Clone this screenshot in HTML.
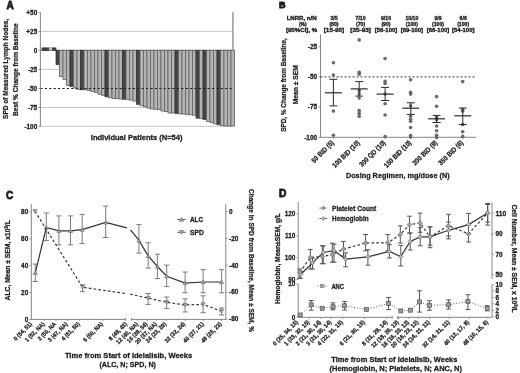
<!DOCTYPE html>
<html><head><meta charset="utf-8"><style>
html,body{margin:0;padding:0;background:#fff;overflow:hidden;}
svg{display:block;font-family:"Liberation Sans",sans-serif;will-change:transform;filter:blur(0.3px);}
</style></head><body>
<svg width="520" height="373" viewBox="0 0 520 373">
<rect width="520" height="373" fill="#fff"/>
<text x="6.50" y="8.70" font-size="10.2" font-weight="bold" fill="#1c1c1c" text-anchor="start" stroke="#1c1c1c" stroke-width="0.8" textLength="7.30" lengthAdjust="spacingAndGlyphs">A</text>
<text x="37.20" y="14.70" font-size="6.4" font-weight="bold" fill="#1c1c1c" text-anchor="end" stroke="#1c1c1c" stroke-width="0.26">+50</text>
<line x1="38.60" y1="12.40" x2="40.40" y2="12.40" stroke="#777" stroke-width="0.8"/>
<text x="37.20" y="33.70" font-size="6.4" font-weight="bold" fill="#1c1c1c" text-anchor="end" stroke="#1c1c1c" stroke-width="0.26">+25</text>
<line x1="38.60" y1="31.40" x2="40.40" y2="31.40" stroke="#777" stroke-width="0.8"/>
<text x="37.20" y="52.60" font-size="6.4" font-weight="bold" fill="#1c1c1c" text-anchor="end" stroke="#1c1c1c" stroke-width="0.26">0</text>
<line x1="38.60" y1="50.30" x2="40.40" y2="50.30" stroke="#777" stroke-width="0.8"/>
<text x="37.20" y="71.70" font-size="6.4" font-weight="bold" fill="#1c1c1c" text-anchor="end" stroke="#1c1c1c" stroke-width="0.26">-25</text>
<line x1="38.60" y1="69.40" x2="40.40" y2="69.40" stroke="#777" stroke-width="0.8"/>
<text x="37.20" y="90.80" font-size="6.4" font-weight="bold" fill="#1c1c1c" text-anchor="end" stroke="#1c1c1c" stroke-width="0.26">-50</text>
<line x1="38.60" y1="88.50" x2="40.40" y2="88.50" stroke="#777" stroke-width="0.8"/>
<text x="37.20" y="109.80" font-size="6.4" font-weight="bold" fill="#1c1c1c" text-anchor="end" stroke="#1c1c1c" stroke-width="0.26">-75</text>
<line x1="38.60" y1="107.50" x2="40.40" y2="107.50" stroke="#777" stroke-width="0.8"/>
<text x="37.20" y="128.60" font-size="6.4" font-weight="bold" fill="#1c1c1c" text-anchor="end" stroke="#1c1c1c" stroke-width="0.26">-100</text>
<line x1="38.60" y1="126.30" x2="40.40" y2="126.30" stroke="#777" stroke-width="0.8"/>
<line x1="40.40" y1="31.40" x2="233.00" y2="31.40" stroke="#bdbdbd" stroke-width="0.9"/>
<line x1="40.40" y1="69.40" x2="233.00" y2="69.40" stroke="#bdbdbd" stroke-width="0.9"/>
<line x1="40.40" y1="107.50" x2="233.00" y2="107.50" stroke="#bdbdbd" stroke-width="0.9"/>
<line x1="40.40" y1="126.30" x2="233.00" y2="126.30" stroke="#bdbdbd" stroke-width="0.9"/>
<line x1="40.40" y1="50.30" x2="233.70" y2="50.30" stroke="#555" stroke-width="0.8"/>
<rect x="42.00" y="47.90" width="3.50" height="2.40" fill="#454545" stroke="#2e2e2e" stroke-width="0.7"/>
<rect x="45.50" y="47.90" width="3.50" height="2.40" fill="#454545" stroke="#2e2e2e" stroke-width="0.7"/>
<rect x="49.00" y="47.90" width="3.50" height="2.40" fill="#d4d4d4" stroke="#777" stroke-width="0.6"/>
<rect x="52.50" y="47.90" width="3.50" height="2.40" fill="#454545" stroke="#2e2e2e" stroke-width="0.7"/>
<rect x="56.00" y="50.30" width="3.50" height="14.30" fill="#454545" stroke="#2e2e2e" stroke-width="0.7"/>
<rect x="59.50" y="50.30" width="3.50" height="26.20" fill="#b4b4b4" stroke="#666" stroke-width="0.85"/>
<rect x="63.00" y="50.30" width="3.50" height="29.20" fill="#b4b4b4" stroke="#666" stroke-width="0.85"/>
<rect x="66.50" y="50.30" width="3.50" height="35.10" fill="#b4b4b4" stroke="#666" stroke-width="0.85"/>
<rect x="70.00" y="50.30" width="3.50" height="36.10" fill="#454545" stroke="#2e2e2e" stroke-width="0.7"/>
<rect x="73.50" y="50.30" width="3.50" height="37.60" fill="#b4b4b4" stroke="#666" stroke-width="0.85"/>
<rect x="77.00" y="50.30" width="3.50" height="39.00" fill="#b4b4b4" stroke="#666" stroke-width="0.85"/>
<rect x="80.50" y="50.30" width="3.50" height="39.50" fill="#454545" stroke="#2e2e2e" stroke-width="0.7"/>
<rect x="84.00" y="50.30" width="3.50" height="39.50" fill="#b4b4b4" stroke="#666" stroke-width="0.85"/>
<rect x="87.50" y="50.30" width="3.50" height="40.20" fill="#b4b4b4" stroke="#666" stroke-width="0.85"/>
<rect x="91.00" y="50.30" width="3.50" height="41.00" fill="#b4b4b4" stroke="#666" stroke-width="0.85"/>
<rect x="94.50" y="50.30" width="3.50" height="42.10" fill="#b4b4b4" stroke="#666" stroke-width="0.85"/>
<rect x="98.00" y="50.30" width="3.50" height="44.00" fill="#b4b4b4" stroke="#666" stroke-width="0.85"/>
<rect x="101.50" y="50.30" width="3.50" height="45.00" fill="#b4b4b4" stroke="#666" stroke-width="0.85"/>
<rect x="105.00" y="50.30" width="3.50" height="46.50" fill="#454545" stroke="#2e2e2e" stroke-width="0.7"/>
<rect x="108.50" y="50.30" width="3.50" height="47.40" fill="#b4b4b4" stroke="#666" stroke-width="0.85"/>
<rect x="112.00" y="50.30" width="3.50" height="48.10" fill="#b4b4b4" stroke="#666" stroke-width="0.85"/>
<rect x="115.50" y="50.30" width="3.50" height="48.40" fill="#b4b4b4" stroke="#666" stroke-width="0.85"/>
<rect x="119.00" y="50.30" width="3.50" height="48.70" fill="#b4b4b4" stroke="#666" stroke-width="0.85"/>
<rect x="122.50" y="50.30" width="3.50" height="48.90" fill="#454545" stroke="#2e2e2e" stroke-width="0.7"/>
<rect x="126.00" y="50.30" width="3.50" height="49.20" fill="#b4b4b4" stroke="#666" stroke-width="0.85"/>
<rect x="129.50" y="50.30" width="3.50" height="49.80" fill="#b4b4b4" stroke="#666" stroke-width="0.85"/>
<rect x="133.00" y="50.30" width="3.50" height="50.80" fill="#b4b4b4" stroke="#666" stroke-width="0.85"/>
<rect x="136.50" y="50.30" width="3.50" height="54.00" fill="#454545" stroke="#2e2e2e" stroke-width="0.7"/>
<rect x="140.00" y="50.30" width="3.50" height="55.40" fill="#b4b4b4" stroke="#666" stroke-width="0.85"/>
<rect x="143.50" y="50.30" width="3.50" height="56.40" fill="#b4b4b4" stroke="#666" stroke-width="0.85"/>
<rect x="147.00" y="50.30" width="3.50" height="57.80" fill="#b4b4b4" stroke="#666" stroke-width="0.85"/>
<rect x="150.50" y="50.30" width="3.50" height="58.60" fill="#b4b4b4" stroke="#666" stroke-width="0.85"/>
<rect x="154.00" y="50.30" width="3.50" height="59.00" fill="#b4b4b4" stroke="#666" stroke-width="0.85"/>
<rect x="157.50" y="50.30" width="3.50" height="59.20" fill="#b4b4b4" stroke="#666" stroke-width="0.85"/>
<rect x="161.00" y="50.30" width="3.50" height="60.70" fill="#b4b4b4" stroke="#666" stroke-width="0.85"/>
<rect x="164.50" y="50.30" width="3.50" height="61.20" fill="#b4b4b4" stroke="#666" stroke-width="0.85"/>
<rect x="168.00" y="50.30" width="3.50" height="62.70" fill="#b4b4b4" stroke="#666" stroke-width="0.85"/>
<rect x="171.50" y="50.30" width="3.50" height="62.70" fill="#b4b4b4" stroke="#666" stroke-width="0.85"/>
<rect x="175.00" y="50.30" width="3.50" height="63.10" fill="#454545" stroke="#2e2e2e" stroke-width="0.7"/>
<rect x="178.50" y="50.30" width="3.50" height="63.60" fill="#b4b4b4" stroke="#666" stroke-width="0.85"/>
<rect x="182.00" y="50.30" width="3.50" height="63.70" fill="#b4b4b4" stroke="#666" stroke-width="0.85"/>
<rect x="185.50" y="50.30" width="3.50" height="64.00" fill="#b4b4b4" stroke="#666" stroke-width="0.85"/>
<rect x="189.00" y="50.30" width="3.50" height="64.50" fill="#b4b4b4" stroke="#666" stroke-width="0.85"/>
<rect x="192.50" y="50.30" width="3.50" height="64.90" fill="#b4b4b4" stroke="#666" stroke-width="0.85"/>
<rect x="196.00" y="50.30" width="3.50" height="67.80" fill="#454545" stroke="#2e2e2e" stroke-width="0.7"/>
<rect x="199.50" y="50.30" width="3.50" height="68.30" fill="#b4b4b4" stroke="#666" stroke-width="0.85"/>
<rect x="203.00" y="50.30" width="3.50" height="69.30" fill="#454545" stroke="#2e2e2e" stroke-width="0.7"/>
<rect x="206.50" y="50.30" width="3.50" height="71.20" fill="#b4b4b4" stroke="#666" stroke-width="0.85"/>
<rect x="210.00" y="50.30" width="3.50" height="72.20" fill="#b4b4b4" stroke="#666" stroke-width="0.85"/>
<rect x="213.50" y="50.30" width="3.50" height="73.60" fill="#b4b4b4" stroke="#666" stroke-width="0.85"/>
<rect x="217.00" y="50.30" width="3.50" height="74.40" fill="#454545" stroke="#2e2e2e" stroke-width="0.7"/>
<rect x="220.50" y="50.30" width="3.50" height="75.20" fill="#b4b4b4" stroke="#666" stroke-width="0.85"/>
<rect x="224.00" y="50.30" width="3.50" height="75.70" fill="#b4b4b4" stroke="#666" stroke-width="0.85"/>
<rect x="227.50" y="50.30" width="3.50" height="75.70" fill="#b4b4b4" stroke="#666" stroke-width="0.85"/>
<rect x="231.00" y="50.30" width="3.50" height="75.70" fill="#b4b4b4" stroke="#666" stroke-width="0.85"/>
<line x1="40.40" y1="88.50" x2="233.00" y2="88.50" stroke="#222" stroke-width="1.0" stroke-dasharray="2.2 2.2"/>
<line x1="40.40" y1="12.00" x2="40.40" y2="126.80" stroke="#777" stroke-width="0.9"/>
<line x1="232.90" y1="12.00" x2="232.90" y2="50.30" stroke="#a0a0a0" stroke-width="1.6"/>
<text x="8.00" y="68.80" font-size="7.3" font-weight="bold" fill="#1c1c1c" text-anchor="middle" stroke="#1c1c1c" stroke-width="0.26" textLength="100.20" lengthAdjust="spacingAndGlyphs" transform="rotate(-90 8.00 68.80)">SPD of Measured Lymph Nodes,</text>
<text x="17.80" y="69.60" font-size="7.3" font-weight="bold" fill="#1c1c1c" text-anchor="middle" stroke="#1c1c1c" stroke-width="0.26" textLength="92.60" lengthAdjust="spacingAndGlyphs" transform="rotate(-90 17.80 69.60)">Best % Change from Baseline</text>
<text x="90.80" y="140.20" font-size="7.4" font-weight="bold" fill="#1c1c1c" text-anchor="start" stroke="#1c1c1c" stroke-width="0.26" textLength="91.70" lengthAdjust="spacingAndGlyphs">Individual Patients (N=54)</text>
<text x="279.10" y="8.00" font-size="9.4" font-weight="bold" fill="#1c1c1c" text-anchor="start" stroke="#1c1c1c" stroke-width="0.8" textLength="6.60" lengthAdjust="spacingAndGlyphs">B</text>
<text x="301.60" y="20.10" font-size="5.2" font-weight="bold" fill="#1c1c1c" text-anchor="middle" stroke="#1c1c1c" stroke-width="0.32" textLength="29.90" lengthAdjust="spacingAndGlyphs">LNRR, n/N</text>
<text x="302.80" y="26.20" font-size="5.2" font-weight="bold" fill="#1c1c1c" text-anchor="middle" stroke="#1c1c1c" stroke-width="0.32" textLength="7.70" lengthAdjust="spacingAndGlyphs">(%)</text>
<text x="301.60" y="32.00" font-size="5.2" font-weight="bold" fill="#1c1c1c" text-anchor="middle" stroke="#1c1c1c" stroke-width="0.32" textLength="31.40" lengthAdjust="spacingAndGlyphs">[95%CI], %</text>
<text x="334.00" y="20.10" font-size="5.2" font-weight="bold" fill="#1c1c1c" text-anchor="middle" stroke="#1c1c1c" stroke-width="0.32">3/5</text>
<text x="334.00" y="26.20" font-size="5.2" font-weight="bold" fill="#1c1c1c" text-anchor="middle" stroke="#1c1c1c" stroke-width="0.32">(60)</text>
<text x="334.00" y="32.00" font-size="5.2" font-weight="bold" fill="#1c1c1c" text-anchor="middle" stroke="#1c1c1c" stroke-width="0.32" textLength="20.50" lengthAdjust="spacingAndGlyphs">[15-95]</text>
<text x="360.60" y="20.10" font-size="5.2" font-weight="bold" fill="#1c1c1c" text-anchor="middle" stroke="#1c1c1c" stroke-width="0.32">7/10</text>
<text x="360.60" y="26.20" font-size="5.2" font-weight="bold" fill="#1c1c1c" text-anchor="middle" stroke="#1c1c1c" stroke-width="0.32">(70)</text>
<text x="360.60" y="32.00" font-size="5.2" font-weight="bold" fill="#1c1c1c" text-anchor="middle" stroke="#1c1c1c" stroke-width="0.32" textLength="20.50" lengthAdjust="spacingAndGlyphs">[35-93]</text>
<text x="386.00" y="20.10" font-size="5.2" font-weight="bold" fill="#1c1c1c" text-anchor="middle" stroke="#1c1c1c" stroke-width="0.32">9/10</text>
<text x="386.00" y="26.20" font-size="5.2" font-weight="bold" fill="#1c1c1c" text-anchor="middle" stroke="#1c1c1c" stroke-width="0.32">(90)</text>
<text x="386.00" y="32.00" font-size="5.2" font-weight="bold" fill="#1c1c1c" text-anchor="middle" stroke="#1c1c1c" stroke-width="0.32" textLength="22.40" lengthAdjust="spacingAndGlyphs">[56-100]</text>
<text x="411.90" y="20.10" font-size="5.2" font-weight="bold" fill="#1c1c1c" text-anchor="middle" stroke="#1c1c1c" stroke-width="0.32">10/10</text>
<text x="411.90" y="26.20" font-size="5.2" font-weight="bold" fill="#1c1c1c" text-anchor="middle" stroke="#1c1c1c" stroke-width="0.32">(100)</text>
<text x="411.90" y="32.00" font-size="5.2" font-weight="bold" fill="#1c1c1c" text-anchor="middle" stroke="#1c1c1c" stroke-width="0.32" textLength="22.40" lengthAdjust="spacingAndGlyphs">[69-100]</text>
<text x="438.00" y="20.10" font-size="5.2" font-weight="bold" fill="#1c1c1c" text-anchor="middle" stroke="#1c1c1c" stroke-width="0.32">9/9</text>
<text x="438.00" y="26.20" font-size="5.2" font-weight="bold" fill="#1c1c1c" text-anchor="middle" stroke="#1c1c1c" stroke-width="0.32">(100)</text>
<text x="438.00" y="32.00" font-size="5.2" font-weight="bold" fill="#1c1c1c" text-anchor="middle" stroke="#1c1c1c" stroke-width="0.32" textLength="22.40" lengthAdjust="spacingAndGlyphs">[66-100]</text>
<text x="463.20" y="20.10" font-size="5.2" font-weight="bold" fill="#1c1c1c" text-anchor="middle" stroke="#1c1c1c" stroke-width="0.32">6/6</text>
<text x="463.20" y="26.20" font-size="5.2" font-weight="bold" fill="#1c1c1c" text-anchor="middle" stroke="#1c1c1c" stroke-width="0.32">(100)</text>
<text x="463.20" y="32.00" font-size="5.2" font-weight="bold" fill="#1c1c1c" text-anchor="middle" stroke="#1c1c1c" stroke-width="0.32" textLength="22.40" lengthAdjust="spacingAndGlyphs">[54-100]</text>
<text x="317.00" y="49.10" font-size="6.4" font-weight="bold" fill="#1c1c1c" text-anchor="end" stroke="#1c1c1c" stroke-width="0.26">-25</text>
<line x1="318.60" y1="46.80" x2="320.50" y2="46.80" stroke="#777" stroke-width="0.8"/>
<text x="317.00" y="79.20" font-size="6.4" font-weight="bold" fill="#1c1c1c" text-anchor="end" stroke="#1c1c1c" stroke-width="0.26">-50</text>
<line x1="318.60" y1="76.90" x2="320.50" y2="76.90" stroke="#777" stroke-width="0.8"/>
<text x="317.00" y="109.30" font-size="6.4" font-weight="bold" fill="#1c1c1c" text-anchor="end" stroke="#1c1c1c" stroke-width="0.26">-75</text>
<line x1="318.60" y1="107.00" x2="320.50" y2="107.00" stroke="#777" stroke-width="0.8"/>
<text x="317.00" y="139.60" font-size="6.4" font-weight="bold" fill="#1c1c1c" text-anchor="end" stroke="#1c1c1c" stroke-width="0.26">-100</text>
<line x1="318.60" y1="137.30" x2="320.50" y2="137.30" stroke="#777" stroke-width="0.8"/>
<line x1="320.50" y1="34.50" x2="320.50" y2="137.80" stroke="#777" stroke-width="0.9"/>
<line x1="320.50" y1="137.30" x2="476.30" y2="137.30" stroke="#777" stroke-width="0.9"/>
<line x1="333.40" y1="137.30" x2="333.40" y2="139.20" stroke="#777" stroke-width="0.7"/>
<line x1="359.20" y1="137.30" x2="359.20" y2="139.20" stroke="#777" stroke-width="0.7"/>
<line x1="385.10" y1="137.30" x2="385.10" y2="139.20" stroke="#777" stroke-width="0.7"/>
<line x1="410.80" y1="137.30" x2="410.80" y2="139.20" stroke="#777" stroke-width="0.7"/>
<line x1="436.80" y1="137.30" x2="436.80" y2="139.20" stroke="#777" stroke-width="0.7"/>
<line x1="462.70" y1="137.30" x2="462.70" y2="139.20" stroke="#777" stroke-width="0.7"/>
<line x1="320.50" y1="76.90" x2="475.00" y2="76.90" stroke="#333" stroke-width="1.0" stroke-dasharray="2 2"/>
<circle cx="333.40" cy="62.70" r="1.8" fill="#686868"/>
<circle cx="333.40" cy="75.00" r="1.8" fill="#686868"/>
<circle cx="333.40" cy="111.10" r="1.8" fill="#686868"/>
<circle cx="333.40" cy="135.30" r="1.8" fill="#686868"/>
<circle cx="359.20" cy="39.90" r="1.8" fill="#686868"/>
<circle cx="359.20" cy="72.30" r="1.8" fill="#686868"/>
<circle cx="359.20" cy="74.20" r="1.8" fill="#686868"/>
<circle cx="359.20" cy="90.80" r="1.8" fill="#686868"/>
<circle cx="359.20" cy="94.10" r="1.8" fill="#686868"/>
<circle cx="359.20" cy="98.00" r="1.8" fill="#686868"/>
<circle cx="359.20" cy="110.50" r="1.8" fill="#686868"/>
<circle cx="359.20" cy="113.40" r="1.8" fill="#686868"/>
<circle cx="359.20" cy="116.30" r="1.8" fill="#686868"/>
<circle cx="385.10" cy="58.60" r="1.8" fill="#686868"/>
<circle cx="385.10" cy="81.40" r="1.8" fill="#686868"/>
<circle cx="385.10" cy="83.50" r="1.8" fill="#686868"/>
<circle cx="385.10" cy="94.10" r="1.8" fill="#686868"/>
<circle cx="385.10" cy="103.80" r="1.8" fill="#686868"/>
<circle cx="385.10" cy="115.00" r="1.8" fill="#686868"/>
<circle cx="385.10" cy="136.60" r="1.8" fill="#686868"/>
<circle cx="410.60" cy="79.70" r="1.8" fill="#686868"/>
<circle cx="410.60" cy="92.20" r="1.8" fill="#686868"/>
<circle cx="410.60" cy="94.10" r="1.8" fill="#686868"/>
<circle cx="410.60" cy="105.70" r="1.8" fill="#686868"/>
<circle cx="410.60" cy="116.30" r="1.8" fill="#686868"/>
<circle cx="410.60" cy="119.20" r="1.8" fill="#686868"/>
<circle cx="410.60" cy="121.20" r="1.8" fill="#686868"/>
<circle cx="410.60" cy="127.50" r="1.8" fill="#686868"/>
<circle cx="410.60" cy="135.60" r="1.8" fill="#686868"/>
<circle cx="410.60" cy="137.00" r="1.8" fill="#686868"/>
<circle cx="436.60" cy="96.60" r="1.8" fill="#686868"/>
<circle cx="436.60" cy="106.30" r="1.8" fill="#686868"/>
<circle cx="436.60" cy="117.30" r="1.8" fill="#686868"/>
<circle cx="436.60" cy="119.80" r="1.8" fill="#686868"/>
<circle cx="436.60" cy="126.00" r="1.8" fill="#686868"/>
<circle cx="436.60" cy="130.80" r="1.8" fill="#686868"/>
<circle cx="436.60" cy="135.30" r="1.8" fill="#686868"/>
<circle cx="436.60" cy="137.60" r="1.8" fill="#686868"/>
<circle cx="462.70" cy="81.60" r="1.8" fill="#686868"/>
<circle cx="462.70" cy="109.60" r="1.8" fill="#686868"/>
<circle cx="462.70" cy="111.10" r="1.8" fill="#686868"/>
<circle cx="462.70" cy="124.60" r="1.8" fill="#686868"/>
<circle cx="462.70" cy="131.80" r="1.8" fill="#686868"/>
<circle cx="462.70" cy="136.40" r="1.8" fill="#686868"/>
<line x1="324.90" y1="92.80" x2="341.90" y2="92.80" stroke="#2a2a2a" stroke-width="1.2"/>
<line x1="333.40" y1="79.30" x2="333.40" y2="105.90" stroke="#2a2a2a" stroke-width="1.0"/>
<line x1="329.40" y1="79.30" x2="337.40" y2="79.30" stroke="#2a2a2a" stroke-width="1.0"/>
<line x1="329.40" y1="105.90" x2="337.40" y2="105.90" stroke="#2a2a2a" stroke-width="1.0"/>
<line x1="350.70" y1="88.90" x2="367.70" y2="88.90" stroke="#2a2a2a" stroke-width="1.2"/>
<line x1="359.20" y1="81.60" x2="359.20" y2="96.10" stroke="#2a2a2a" stroke-width="1.0"/>
<line x1="355.20" y1="81.60" x2="363.20" y2="81.60" stroke="#2a2a2a" stroke-width="1.0"/>
<line x1="355.20" y1="96.10" x2="363.20" y2="96.10" stroke="#2a2a2a" stroke-width="1.0"/>
<line x1="376.60" y1="94.10" x2="393.60" y2="94.10" stroke="#2a2a2a" stroke-width="1.2"/>
<line x1="385.10" y1="87.40" x2="385.10" y2="100.50" stroke="#2a2a2a" stroke-width="1.0"/>
<line x1="381.10" y1="87.40" x2="389.10" y2="87.40" stroke="#2a2a2a" stroke-width="1.0"/>
<line x1="381.10" y1="100.50" x2="389.10" y2="100.50" stroke="#2a2a2a" stroke-width="1.0"/>
<line x1="402.30" y1="108.20" x2="419.30" y2="108.20" stroke="#2a2a2a" stroke-width="1.2"/>
<line x1="410.80" y1="102.80" x2="410.80" y2="114.40" stroke="#2a2a2a" stroke-width="1.0"/>
<line x1="406.80" y1="102.80" x2="414.80" y2="102.80" stroke="#2a2a2a" stroke-width="1.0"/>
<line x1="406.80" y1="114.40" x2="414.80" y2="114.40" stroke="#2a2a2a" stroke-width="1.0"/>
<line x1="428.10" y1="118.80" x2="445.10" y2="118.80" stroke="#2a2a2a" stroke-width="1.2"/>
<line x1="436.60" y1="115.40" x2="436.60" y2="122.50" stroke="#2a2a2a" stroke-width="1.0"/>
<line x1="432.60" y1="115.40" x2="440.60" y2="115.40" stroke="#2a2a2a" stroke-width="1.0"/>
<line x1="432.60" y1="122.50" x2="440.60" y2="122.50" stroke="#2a2a2a" stroke-width="1.0"/>
<line x1="454.30" y1="115.80" x2="471.30" y2="115.80" stroke="#2a2a2a" stroke-width="1.2"/>
<line x1="462.80" y1="108.00" x2="462.80" y2="124.60" stroke="#2a2a2a" stroke-width="1.0"/>
<line x1="458.80" y1="108.00" x2="466.80" y2="108.00" stroke="#2a2a2a" stroke-width="1.0"/>
<line x1="458.80" y1="124.60" x2="466.80" y2="124.60" stroke="#2a2a2a" stroke-width="1.0"/>
<text x="286.10" y="85.00" font-size="7.3" font-weight="bold" fill="#1c1c1c" text-anchor="middle" stroke="#1c1c1c" stroke-width="0.26" textLength="93.70" lengthAdjust="spacingAndGlyphs" transform="rotate(-90 286.10 85.00)">SPD, % Change from Baseline,</text>
<text x="298.20" y="84.70" font-size="7.3" font-weight="bold" fill="#1c1c1c" text-anchor="middle" stroke="#1c1c1c" stroke-width="0.26" textLength="39.30" lengthAdjust="spacingAndGlyphs" transform="rotate(-90 298.20 84.70)">Mean ± SEM</text>
<text x="334.40" y="143.20" font-size="7.0" font-weight="bold" fill="#1c1c1c" text-anchor="end" stroke="#1c1c1c" stroke-width="0.26" textLength="28.60" lengthAdjust="spacingAndGlyphs" transform="rotate(-45 334.40 143.20)">50 BID (5)</text>
<text x="360.20" y="143.20" font-size="7.0" font-weight="bold" fill="#1c1c1c" text-anchor="end" stroke="#1c1c1c" stroke-width="0.26" textLength="35.49" lengthAdjust="spacingAndGlyphs" transform="rotate(-45 360.20 143.20)">100 BID (10)</text>
<text x="386.10" y="143.20" font-size="7.0" font-weight="bold" fill="#1c1c1c" text-anchor="end" stroke="#1c1c1c" stroke-width="0.26" textLength="34.12" lengthAdjust="spacingAndGlyphs" transform="rotate(-45 386.10 143.20)">300 QD (10)</text>
<text x="411.80" y="143.20" font-size="7.0" font-weight="bold" fill="#1c1c1c" text-anchor="end" stroke="#1c1c1c" stroke-width="0.26" textLength="35.49" lengthAdjust="spacingAndGlyphs" transform="rotate(-45 411.80 143.20)">150 BID (10)</text>
<text x="437.80" y="143.20" font-size="7.0" font-weight="bold" fill="#1c1c1c" text-anchor="end" stroke="#1c1c1c" stroke-width="0.26" textLength="32.04" lengthAdjust="spacingAndGlyphs" transform="rotate(-45 437.80 143.20)">200 BID (9)</text>
<text x="463.70" y="143.20" font-size="7.0" font-weight="bold" fill="#1c1c1c" text-anchor="end" stroke="#1c1c1c" stroke-width="0.26" textLength="32.04" lengthAdjust="spacingAndGlyphs" transform="rotate(-45 463.70 143.20)">350 BID (6)</text>
<text x="345.90" y="177.50" font-size="7.4" font-weight="bold" fill="#1c1c1c" text-anchor="start" stroke="#1c1c1c" stroke-width="0.26" textLength="103.70" lengthAdjust="spacingAndGlyphs">Dosing Regimen, mg/dose (N)</text>
<text x="6.00" y="199.30" font-size="10.4" font-weight="bold" fill="#1c1c1c" text-anchor="start" stroke="#1c1c1c" stroke-width="0.8" textLength="7.20" lengthAdjust="spacingAndGlyphs">C</text>
<text x="28.20" y="321.60" font-size="6.4" font-weight="bold" fill="#1c1c1c" text-anchor="end" stroke="#1c1c1c" stroke-width="0.26">0</text>
<line x1="29.40" y1="319.30" x2="31.30" y2="319.30" stroke="#777" stroke-width="0.8"/>
<text x="28.20" y="294.80" font-size="6.4" font-weight="bold" fill="#1c1c1c" text-anchor="end" stroke="#1c1c1c" stroke-width="0.26">20</text>
<line x1="29.40" y1="292.50" x2="31.30" y2="292.50" stroke="#777" stroke-width="0.8"/>
<text x="28.20" y="268.00" font-size="6.4" font-weight="bold" fill="#1c1c1c" text-anchor="end" stroke="#1c1c1c" stroke-width="0.26">40</text>
<line x1="29.40" y1="265.70" x2="31.30" y2="265.70" stroke="#777" stroke-width="0.8"/>
<text x="28.20" y="241.20" font-size="6.4" font-weight="bold" fill="#1c1c1c" text-anchor="end" stroke="#1c1c1c" stroke-width="0.26">60</text>
<line x1="29.40" y1="238.90" x2="31.30" y2="238.90" stroke="#777" stroke-width="0.8"/>
<text x="28.20" y="214.40" font-size="6.4" font-weight="bold" fill="#1c1c1c" text-anchor="end" stroke="#1c1c1c" stroke-width="0.26">80</text>
<line x1="29.40" y1="212.10" x2="31.30" y2="212.10" stroke="#777" stroke-width="0.8"/>
<line x1="31.30" y1="204.30" x2="31.30" y2="319.60" stroke="#777" stroke-width="0.9"/>
<line x1="31.30" y1="319.40" x2="125.50" y2="319.40" stroke="#777" stroke-width="0.9"/>
<line x1="131.40" y1="319.40" x2="225.80" y2="319.40" stroke="#777" stroke-width="0.9"/>
<line x1="125.50" y1="318.00" x2="125.50" y2="320.80" stroke="#777" stroke-width="0.9"/>
<line x1="131.40" y1="318.00" x2="131.40" y2="320.80" stroke="#777" stroke-width="0.9"/>
<line x1="225.80" y1="204.30" x2="225.80" y2="319.60" stroke="#777" stroke-width="0.9"/>
<line x1="225.80" y1="211.30" x2="227.60" y2="211.30" stroke="#777" stroke-width="0.8"/>
<text x="229.00" y="213.60" font-size="6.4" font-weight="bold" fill="#1c1c1c" text-anchor="start" stroke="#1c1c1c" stroke-width="0.26">0</text>
<line x1="225.80" y1="238.25" x2="227.60" y2="238.25" stroke="#777" stroke-width="0.8"/>
<text x="229.00" y="240.55" font-size="6.4" font-weight="bold" fill="#1c1c1c" text-anchor="start" stroke="#1c1c1c" stroke-width="0.26">-20</text>
<line x1="225.80" y1="265.20" x2="227.60" y2="265.20" stroke="#777" stroke-width="0.8"/>
<text x="229.00" y="267.50" font-size="6.4" font-weight="bold" fill="#1c1c1c" text-anchor="start" stroke="#1c1c1c" stroke-width="0.26">-40</text>
<line x1="225.80" y1="292.15" x2="227.60" y2="292.15" stroke="#777" stroke-width="0.8"/>
<text x="229.00" y="294.45" font-size="6.4" font-weight="bold" fill="#1c1c1c" text-anchor="start" stroke="#1c1c1c" stroke-width="0.26">-60</text>
<line x1="225.80" y1="319.10" x2="227.60" y2="319.10" stroke="#777" stroke-width="0.8"/>
<text x="229.00" y="321.40" font-size="6.4" font-weight="bold" fill="#1c1c1c" text-anchor="start" stroke="#1c1c1c" stroke-width="0.26">-80</text>
<line x1="44.40" y1="319.40" x2="44.40" y2="321.00" stroke="#777" stroke-width="0.7"/>
<line x1="56.00" y1="319.40" x2="56.00" y2="321.00" stroke="#777" stroke-width="0.7"/>
<line x1="67.50" y1="319.40" x2="67.50" y2="321.00" stroke="#777" stroke-width="0.7"/>
<line x1="79.60" y1="319.40" x2="79.60" y2="321.00" stroke="#777" stroke-width="0.7"/>
<line x1="102.70" y1="319.40" x2="102.70" y2="321.00" stroke="#777" stroke-width="0.7"/>
<line x1="137.90" y1="319.40" x2="137.90" y2="321.00" stroke="#777" stroke-width="0.7"/>
<line x1="147.30" y1="319.40" x2="147.30" y2="321.00" stroke="#777" stroke-width="0.7"/>
<line x1="156.70" y1="319.40" x2="156.70" y2="321.00" stroke="#777" stroke-width="0.7"/>
<line x1="166.10" y1="319.40" x2="166.10" y2="321.00" stroke="#777" stroke-width="0.7"/>
<line x1="185.00" y1="319.40" x2="185.00" y2="321.00" stroke="#777" stroke-width="0.7"/>
<line x1="203.60" y1="319.40" x2="203.60" y2="321.00" stroke="#777" stroke-width="0.7"/>
<line x1="221.50" y1="319.40" x2="221.50" y2="321.00" stroke="#777" stroke-width="0.7"/>
<line x1="35.30" y1="264.10" x2="35.30" y2="281.50" stroke="#7d7d7d" stroke-width="1.0"/>
<line x1="32.70" y1="264.10" x2="37.90" y2="264.10" stroke="#7d7d7d" stroke-width="1.0"/>
<line x1="32.70" y1="281.50" x2="37.90" y2="281.50" stroke="#7d7d7d" stroke-width="1.0"/>
<line x1="46.30" y1="213.00" x2="46.30" y2="240.60" stroke="#7d7d7d" stroke-width="1.0"/>
<line x1="43.70" y1="213.00" x2="48.90" y2="213.00" stroke="#7d7d7d" stroke-width="1.0"/>
<line x1="43.70" y1="240.60" x2="48.90" y2="240.60" stroke="#7d7d7d" stroke-width="1.0"/>
<line x1="58.90" y1="215.90" x2="58.90" y2="244.90" stroke="#7d7d7d" stroke-width="1.0"/>
<line x1="56.30" y1="215.90" x2="61.50" y2="215.90" stroke="#7d7d7d" stroke-width="1.0"/>
<line x1="56.30" y1="244.90" x2="61.50" y2="244.90" stroke="#7d7d7d" stroke-width="1.0"/>
<line x1="70.50" y1="215.90" x2="70.50" y2="244.90" stroke="#7d7d7d" stroke-width="1.0"/>
<line x1="67.90" y1="215.90" x2="73.10" y2="215.90" stroke="#7d7d7d" stroke-width="1.0"/>
<line x1="67.90" y1="244.90" x2="73.10" y2="244.90" stroke="#7d7d7d" stroke-width="1.0"/>
<line x1="82.20" y1="214.40" x2="82.20" y2="243.50" stroke="#7d7d7d" stroke-width="1.0"/>
<line x1="79.60" y1="214.40" x2="84.80" y2="214.40" stroke="#7d7d7d" stroke-width="1.0"/>
<line x1="79.60" y1="243.50" x2="84.80" y2="243.50" stroke="#7d7d7d" stroke-width="1.0"/>
<line x1="105.70" y1="206.00" x2="105.70" y2="237.50" stroke="#7d7d7d" stroke-width="1.0"/>
<line x1="103.10" y1="206.00" x2="108.30" y2="206.00" stroke="#7d7d7d" stroke-width="1.0"/>
<line x1="103.10" y1="237.50" x2="108.30" y2="237.50" stroke="#7d7d7d" stroke-width="1.0"/>
<line x1="138.90" y1="224.60" x2="138.90" y2="253.10" stroke="#7d7d7d" stroke-width="1.0"/>
<line x1="136.30" y1="224.60" x2="141.50" y2="224.60" stroke="#7d7d7d" stroke-width="1.0"/>
<line x1="136.30" y1="253.10" x2="141.50" y2="253.10" stroke="#7d7d7d" stroke-width="1.0"/>
<line x1="148.20" y1="242.70" x2="148.20" y2="268.10" stroke="#7d7d7d" stroke-width="1.0"/>
<line x1="145.60" y1="242.70" x2="150.80" y2="242.70" stroke="#7d7d7d" stroke-width="1.0"/>
<line x1="145.60" y1="268.10" x2="150.80" y2="268.10" stroke="#7d7d7d" stroke-width="1.0"/>
<line x1="157.40" y1="254.20" x2="157.40" y2="278.50" stroke="#7d7d7d" stroke-width="1.0"/>
<line x1="154.80" y1="254.20" x2="160.00" y2="254.20" stroke="#7d7d7d" stroke-width="1.0"/>
<line x1="154.80" y1="278.50" x2="160.00" y2="278.50" stroke="#7d7d7d" stroke-width="1.0"/>
<line x1="166.70" y1="265.10" x2="166.70" y2="286.60" stroke="#7d7d7d" stroke-width="1.0"/>
<line x1="164.10" y1="265.10" x2="169.30" y2="265.10" stroke="#7d7d7d" stroke-width="1.0"/>
<line x1="164.10" y1="286.60" x2="169.30" y2="286.60" stroke="#7d7d7d" stroke-width="1.0"/>
<line x1="185.10" y1="272.00" x2="185.10" y2="292.80" stroke="#7d7d7d" stroke-width="1.0"/>
<line x1="182.50" y1="272.00" x2="187.70" y2="272.00" stroke="#7d7d7d" stroke-width="1.0"/>
<line x1="182.50" y1="292.80" x2="187.70" y2="292.80" stroke="#7d7d7d" stroke-width="1.0"/>
<line x1="203.10" y1="269.70" x2="203.10" y2="292.80" stroke="#7d7d7d" stroke-width="1.0"/>
<line x1="200.50" y1="269.70" x2="205.70" y2="269.70" stroke="#7d7d7d" stroke-width="1.0"/>
<line x1="200.50" y1="292.80" x2="205.70" y2="292.80" stroke="#7d7d7d" stroke-width="1.0"/>
<line x1="221.60" y1="269.70" x2="221.60" y2="292.80" stroke="#7d7d7d" stroke-width="1.0"/>
<line x1="219.00" y1="269.70" x2="224.20" y2="269.70" stroke="#7d7d7d" stroke-width="1.0"/>
<line x1="219.00" y1="292.80" x2="224.20" y2="292.80" stroke="#7d7d7d" stroke-width="1.0"/>
<path d="M35.3,272.8 L46.3,227.5 L58.9,230.8 L70.5,230.8 L82.2,229.6 L105.7,222.4 L126.9,227.9" stroke="#333" stroke-width="1.2" fill="none"/>
<path d="M130.6,229.8 L138.9,240.4 L148.2,255.9 L157.4,266.5 L166.7,276.2 L185.1,283.1 L203.1,282.0 L221.6,282.0" stroke="#333" stroke-width="1.2" fill="none"/>
<path d="M33.30,274.40 L37.30,274.40 L35.30,271.00 Z" fill="#aaa" stroke="#666" stroke-width="0.6"/>
<path d="M44.30,229.10 L48.30,229.10 L46.30,225.70 Z" fill="#aaa" stroke="#666" stroke-width="0.6"/>
<path d="M56.90,232.40 L60.90,232.40 L58.90,229.00 Z" fill="#aaa" stroke="#666" stroke-width="0.6"/>
<path d="M68.50,232.40 L72.50,232.40 L70.50,229.00 Z" fill="#aaa" stroke="#666" stroke-width="0.6"/>
<path d="M80.20,231.20 L84.20,231.20 L82.20,227.80 Z" fill="#aaa" stroke="#666" stroke-width="0.6"/>
<path d="M103.70,224.00 L107.70,224.00 L105.70,220.60 Z" fill="#aaa" stroke="#666" stroke-width="0.6"/>
<path d="M136.90,242.00 L140.90,242.00 L138.90,238.60 Z" fill="#aaa" stroke="#666" stroke-width="0.6"/>
<path d="M146.20,257.50 L150.20,257.50 L148.20,254.10 Z" fill="#aaa" stroke="#666" stroke-width="0.6"/>
<path d="M155.40,268.10 L159.40,268.10 L157.40,264.70 Z" fill="#aaa" stroke="#666" stroke-width="0.6"/>
<path d="M164.70,277.80 L168.70,277.80 L166.70,274.40 Z" fill="#aaa" stroke="#666" stroke-width="0.6"/>
<path d="M183.10,284.70 L187.10,284.70 L185.10,281.30 Z" fill="#aaa" stroke="#666" stroke-width="0.6"/>
<path d="M201.10,283.60 L205.10,283.60 L203.10,280.20 Z" fill="#aaa" stroke="#666" stroke-width="0.6"/>
<path d="M219.60,283.60 L223.60,283.60 L221.60,280.20 Z" fill="#aaa" stroke="#666" stroke-width="0.6"/>
<line x1="82.60" y1="284.80" x2="82.60" y2="291.70" stroke="#7d7d7d" stroke-width="1.0"/>
<line x1="80.00" y1="284.80" x2="85.20" y2="284.80" stroke="#7d7d7d" stroke-width="1.0"/>
<line x1="80.00" y1="291.70" x2="85.20" y2="291.70" stroke="#7d7d7d" stroke-width="1.0"/>
<line x1="148.20" y1="293.50" x2="148.20" y2="304.40" stroke="#7d7d7d" stroke-width="1.0"/>
<line x1="145.60" y1="293.50" x2="150.80" y2="293.50" stroke="#7d7d7d" stroke-width="1.0"/>
<line x1="145.60" y1="304.40" x2="150.80" y2="304.40" stroke="#7d7d7d" stroke-width="1.0"/>
<line x1="166.70" y1="297.00" x2="166.70" y2="308.50" stroke="#7d7d7d" stroke-width="1.0"/>
<line x1="164.10" y1="297.00" x2="169.30" y2="297.00" stroke="#7d7d7d" stroke-width="1.0"/>
<line x1="164.10" y1="308.50" x2="169.30" y2="308.50" stroke="#7d7d7d" stroke-width="1.0"/>
<line x1="185.10" y1="298.80" x2="185.10" y2="312.00" stroke="#7d7d7d" stroke-width="1.0"/>
<line x1="182.50" y1="298.80" x2="187.70" y2="298.80" stroke="#7d7d7d" stroke-width="1.0"/>
<line x1="182.50" y1="312.00" x2="187.70" y2="312.00" stroke="#7d7d7d" stroke-width="1.0"/>
<line x1="203.10" y1="295.80" x2="203.10" y2="312.70" stroke="#7d7d7d" stroke-width="1.0"/>
<line x1="200.50" y1="295.80" x2="205.70" y2="295.80" stroke="#7d7d7d" stroke-width="1.0"/>
<line x1="200.50" y1="312.70" x2="205.70" y2="312.70" stroke="#7d7d7d" stroke-width="1.0"/>
<line x1="221.60" y1="308.00" x2="221.60" y2="315.00" stroke="#7d7d7d" stroke-width="1.0"/>
<line x1="219.00" y1="308.00" x2="224.20" y2="308.00" stroke="#7d7d7d" stroke-width="1.0"/>
<line x1="219.00" y1="315.00" x2="224.20" y2="315.00" stroke="#7d7d7d" stroke-width="1.0"/>
<path d="M35.0,211.3 L82.6,287.3 L126.1,293.6" stroke="#333" stroke-width="1.2" fill="none" stroke-dasharray="2.6 2.2"/>
<path d="M130.2,294.2 L148.2,298.1 L166.7,302.3 L185.1,305.0 L203.1,304.4 L221.6,311.3" stroke="#333" stroke-width="1.2" fill="none" stroke-dasharray="2.6 2.2"/>
<path d="M32.90,209.62 L37.10,209.62 L35.00,213.19 Z" fill="#aaa" stroke="#666" stroke-width="0.6"/>
<path d="M80.50,285.62 L84.70,285.62 L82.60,289.19 Z" fill="#aaa" stroke="#666" stroke-width="0.6"/>
<path d="M146.10,296.42 L150.30,296.42 L148.20,299.99 Z" fill="#aaa" stroke="#666" stroke-width="0.6"/>
<path d="M164.60,300.62 L168.80,300.62 L166.70,304.19 Z" fill="#aaa" stroke="#666" stroke-width="0.6"/>
<path d="M183.00,303.32 L187.20,303.32 L185.10,306.89 Z" fill="#aaa" stroke="#666" stroke-width="0.6"/>
<path d="M201.00,302.72 L205.20,302.72 L203.10,306.29 Z" fill="#aaa" stroke="#666" stroke-width="0.6"/>
<path d="M219.50,309.62 L223.70,309.62 L221.60,313.19 Z" fill="#aaa" stroke="#666" stroke-width="0.6"/>
<line x1="177.20" y1="219.50" x2="185.80" y2="219.50" stroke="#666" stroke-width="1.0"/>
<path d="M179.30,221.26 L183.70,221.26 L181.50,217.52 Z" fill="#aaa" stroke="#666" stroke-width="0.6"/>
<line x1="177.20" y1="232.30" x2="185.80" y2="232.30" stroke="#666" stroke-width="1.0"/>
<path d="M179.30,230.54 L183.70,230.54 L181.50,234.28 Z" fill="#aaa" stroke="#666" stroke-width="0.6"/>
<text x="190.00" y="221.90" font-size="7.0" font-weight="bold" fill="#1c1c1c" text-anchor="start" stroke="#1c1c1c" stroke-width="0.26" textLength="13.10" lengthAdjust="spacingAndGlyphs">ALC</text>
<text x="190.00" y="234.70" font-size="7.0" font-weight="bold" fill="#1c1c1c" text-anchor="start" stroke="#1c1c1c" stroke-width="0.26" textLength="13.80" lengthAdjust="spacingAndGlyphs">SPD</text>
<text x="10.30" y="260.30" font-size="7.3" font-weight="bold" fill="#1c1c1c" text-anchor="middle" stroke="#1c1c1c" stroke-width="0.26" textLength="80.20" lengthAdjust="spacingAndGlyphs" transform="rotate(-90 10.30 260.30)">ALC, Mean ± SEM, x10<tspan font-size="4.5" dy="-2.5">9</tspan><tspan dy="2.5">/L</tspan></text>
<text x="248.70" y="260.50" font-size="7.3" font-weight="bold" fill="#1c1c1c" text-anchor="middle" stroke="#1c1c1c" stroke-width="0.26" textLength="143.00" lengthAdjust="spacingAndGlyphs" transform="rotate(90 248.70 260.50)">Change in SPD from Baseline, Mean ± SEM, %</text>
<text x="32.40" y="324.50" font-size="6.0" font-weight="bold" fill="#1c1c1c" text-anchor="end" stroke="#1c1c1c" stroke-width="0.26" textLength="23.33" lengthAdjust="spacingAndGlyphs" transform="rotate(-45 32.40 324.50)">0 (54, 51)</text>
<text x="45.00" y="324.50" font-size="6.0" font-weight="bold" fill="#1c1c1c" text-anchor="end" stroke="#1c1c1c" stroke-width="0.26" textLength="25.14" lengthAdjust="spacingAndGlyphs" transform="rotate(-45 45.00 324.50)">1 (52, NA)</text>
<text x="56.60" y="324.50" font-size="6.0" font-weight="bold" fill="#1c1c1c" text-anchor="end" stroke="#1c1c1c" stroke-width="0.26" textLength="23.32" lengthAdjust="spacingAndGlyphs" transform="rotate(-45 56.60 324.50)">2 (50, NA</text>
<text x="68.10" y="324.50" font-size="6.0" font-weight="bold" fill="#1c1c1c" text-anchor="end" stroke="#1c1c1c" stroke-width="0.26" textLength="25.14" lengthAdjust="spacingAndGlyphs" transform="rotate(-45 68.10 324.50)">3 (47, NA)</text>
<text x="80.20" y="324.50" font-size="6.0" font-weight="bold" fill="#1c1c1c" text-anchor="end" stroke="#1c1c1c" stroke-width="0.26" textLength="23.33" lengthAdjust="spacingAndGlyphs" transform="rotate(-45 80.20 324.50)">4 (51, 50)</text>
<text x="103.30" y="324.50" font-size="6.0" font-weight="bold" fill="#1c1c1c" text-anchor="end" stroke="#1c1c1c" stroke-width="0.26" textLength="25.14" lengthAdjust="spacingAndGlyphs" transform="rotate(-45 103.30 324.50)">6 (50, NA)</text>
<text x="127.50" y="324.50" font-size="6.0" font-weight="bold" fill="#1c1c1c" text-anchor="end" stroke="#1c1c1c" stroke-width="0.26" textLength="23.33" lengthAdjust="spacingAndGlyphs" transform="rotate(-45 127.50 324.50)">8 (48, 43)</text>
<text x="138.50" y="324.50" font-size="6.0" font-weight="bold" fill="#1c1c1c" text-anchor="end" stroke="#1c1c1c" stroke-width="0.26" textLength="28.17" lengthAdjust="spacingAndGlyphs" transform="rotate(-45 138.50 324.50)">12 (43, NA)</text>
<text x="147.90" y="324.50" font-size="6.0" font-weight="bold" fill="#1c1c1c" text-anchor="end" stroke="#1c1c1c" stroke-width="0.26" textLength="26.36" lengthAdjust="spacingAndGlyphs" transform="rotate(-45 147.90 324.50)">16 (39, 34)</text>
<text x="157.30" y="324.50" font-size="6.0" font-weight="bold" fill="#1c1c1c" text-anchor="end" stroke="#1c1c1c" stroke-width="0.26" textLength="28.17" lengthAdjust="spacingAndGlyphs" transform="rotate(-45 157.30 324.50)">20 (37, NA)</text>
<text x="166.70" y="324.50" font-size="6.0" font-weight="bold" fill="#1c1c1c" text-anchor="end" stroke="#1c1c1c" stroke-width="0.26" textLength="26.36" lengthAdjust="spacingAndGlyphs" transform="rotate(-45 166.70 324.50)">24 (33, 29)</text>
<text x="185.60" y="324.50" font-size="6.0" font-weight="bold" fill="#1c1c1c" text-anchor="end" stroke="#1c1c1c" stroke-width="0.26" textLength="26.36" lengthAdjust="spacingAndGlyphs" transform="rotate(-45 185.60 324.50)">32 (32, 24)</text>
<text x="204.20" y="324.50" font-size="6.0" font-weight="bold" fill="#1c1c1c" text-anchor="end" stroke="#1c1c1c" stroke-width="0.26" textLength="26.36" lengthAdjust="spacingAndGlyphs" transform="rotate(-45 204.20 324.50)">40 (27, 21)</text>
<text x="222.10" y="324.50" font-size="6.0" font-weight="bold" fill="#1c1c1c" text-anchor="end" stroke="#1c1c1c" stroke-width="0.26" textLength="26.36" lengthAdjust="spacingAndGlyphs" transform="rotate(-45 222.10 324.50)">48 (25, 23)</text>
<text x="64.90" y="358.00" font-size="7.4" font-weight="bold" fill="#1c1c1c" text-anchor="start" stroke="#1c1c1c" stroke-width="0.26" textLength="127.30" lengthAdjust="spacingAndGlyphs">Time from Start of Idelalisib, Weeks</text>
<text x="99.40" y="366.70" font-size="7.4" font-weight="bold" fill="#1c1c1c" text-anchor="start" stroke="#1c1c1c" stroke-width="0.26" textLength="56.50" lengthAdjust="spacingAndGlyphs">(ALC, N; SPD, N)</text>
<text x="279.00" y="197.30" font-size="10.1" font-weight="bold" fill="#1c1c1c" text-anchor="start" stroke="#1c1c1c" stroke-width="0.8" textLength="7.40" lengthAdjust="spacingAndGlyphs">D</text>
<text x="295.30" y="281.70" font-size="6.4" font-weight="bold" fill="#1c1c1c" text-anchor="end" stroke="#1c1c1c" stroke-width="0.26">90</text>
<line x1="296.50" y1="279.40" x2="298.30" y2="279.40" stroke="#777" stroke-width="0.8"/>
<text x="295.30" y="259.90" font-size="6.4" font-weight="bold" fill="#1c1c1c" text-anchor="end" stroke="#1c1c1c" stroke-width="0.26">100</text>
<line x1="296.50" y1="257.60" x2="298.30" y2="257.60" stroke="#777" stroke-width="0.8"/>
<text x="295.30" y="238.10" font-size="6.4" font-weight="bold" fill="#1c1c1c" text-anchor="end" stroke="#1c1c1c" stroke-width="0.26">110</text>
<line x1="296.50" y1="235.80" x2="298.30" y2="235.80" stroke="#777" stroke-width="0.8"/>
<text x="295.30" y="216.30" font-size="6.4" font-weight="bold" fill="#1c1c1c" text-anchor="end" stroke="#1c1c1c" stroke-width="0.26">120</text>
<line x1="296.50" y1="214.00" x2="298.30" y2="214.00" stroke="#777" stroke-width="0.8"/>
<line x1="298.30" y1="201.90" x2="298.30" y2="279.50" stroke="#aaa" stroke-width="1.4"/>
<line x1="298.30" y1="284.10" x2="298.30" y2="317.30" stroke="#aaa" stroke-width="1.4"/>
<text x="295.30" y="286.40" font-size="6.4" font-weight="bold" fill="#1c1c1c" text-anchor="end" stroke="#1c1c1c" stroke-width="0.26">10</text>
<text x="295.30" y="319.60" font-size="6.4" font-weight="bold" fill="#1c1c1c" text-anchor="end" stroke="#1c1c1c" stroke-width="0.26">0</text>
<line x1="296.50" y1="284.10" x2="298.30" y2="284.10" stroke="#777" stroke-width="0.8"/>
<line x1="296.50" y1="317.00" x2="298.30" y2="317.00" stroke="#777" stroke-width="0.8"/>
<line x1="298.30" y1="317.30" x2="392.20" y2="317.30" stroke="#777" stroke-width="0.9"/>
<line x1="397.60" y1="317.30" x2="492.00" y2="317.30" stroke="#777" stroke-width="0.9"/>
<line x1="392.20" y1="316.00" x2="392.20" y2="318.80" stroke="#777" stroke-width="0.9"/>
<line x1="397.60" y1="316.00" x2="397.60" y2="318.80" stroke="#777" stroke-width="0.9"/>
<line x1="492.00" y1="202.20" x2="492.00" y2="279.00" stroke="#aaa" stroke-width="1.4"/>
<line x1="492.00" y1="284.50" x2="492.00" y2="317.00" stroke="#aaa" stroke-width="1.4"/>
<line x1="492.00" y1="213.20" x2="493.80" y2="213.20" stroke="#777" stroke-width="0.8"/>
<text x="495.50" y="215.50" font-size="6.4" font-weight="bold" fill="#1c1c1c" text-anchor="start" stroke="#1c1c1c" stroke-width="0.26" textLength="10.80" lengthAdjust="spacingAndGlyphs">110</text>
<line x1="492.00" y1="233.90" x2="493.80" y2="233.90" stroke="#777" stroke-width="0.8"/>
<text x="495.50" y="236.20" font-size="6.4" font-weight="bold" fill="#1c1c1c" text-anchor="start" stroke="#1c1c1c" stroke-width="0.26">90</text>
<line x1="492.00" y1="254.40" x2="493.80" y2="254.40" stroke="#777" stroke-width="0.8"/>
<text x="495.50" y="256.70" font-size="6.4" font-weight="bold" fill="#1c1c1c" text-anchor="start" stroke="#1c1c1c" stroke-width="0.26">70</text>
<line x1="492.00" y1="274.80" x2="493.80" y2="274.80" stroke="#777" stroke-width="0.8"/>
<text x="495.50" y="277.10" font-size="6.4" font-weight="bold" fill="#1c1c1c" text-anchor="start" stroke="#1c1c1c" stroke-width="0.26">50</text>
<line x1="492.00" y1="284.50" x2="493.80" y2="284.50" stroke="#777" stroke-width="0.8"/>
<text x="495.50" y="286.80" font-size="6.4" font-weight="bold" fill="#1c1c1c" text-anchor="start" stroke="#1c1c1c" stroke-width="0.26">10</text>
<line x1="492.00" y1="290.90" x2="493.80" y2="290.90" stroke="#777" stroke-width="0.8"/>
<text x="495.50" y="293.20" font-size="6.4" font-weight="bold" fill="#1c1c1c" text-anchor="start" stroke="#1c1c1c" stroke-width="0.26">8</text>
<line x1="492.00" y1="297.40" x2="493.80" y2="297.40" stroke="#777" stroke-width="0.8"/>
<text x="495.50" y="299.70" font-size="6.4" font-weight="bold" fill="#1c1c1c" text-anchor="start" stroke="#1c1c1c" stroke-width="0.26">6</text>
<line x1="492.00" y1="303.90" x2="493.80" y2="303.90" stroke="#777" stroke-width="0.8"/>
<text x="495.50" y="306.20" font-size="6.4" font-weight="bold" fill="#1c1c1c" text-anchor="start" stroke="#1c1c1c" stroke-width="0.26">4</text>
<line x1="492.00" y1="310.40" x2="493.80" y2="310.40" stroke="#777" stroke-width="0.8"/>
<text x="495.50" y="312.70" font-size="6.4" font-weight="bold" fill="#1c1c1c" text-anchor="start" stroke="#1c1c1c" stroke-width="0.26">2</text>
<line x1="492.00" y1="316.90" x2="493.80" y2="316.90" stroke="#777" stroke-width="0.8"/>
<text x="495.50" y="319.20" font-size="6.4" font-weight="bold" fill="#1c1c1c" text-anchor="start" stroke="#1c1c1c" stroke-width="0.26">0</text>
<line x1="309.30" y1="317.30" x2="309.30" y2="319.00" stroke="#777" stroke-width="0.7"/>
<line x1="320.80" y1="317.30" x2="320.80" y2="319.00" stroke="#777" stroke-width="0.7"/>
<line x1="331.20" y1="317.30" x2="331.20" y2="319.00" stroke="#777" stroke-width="0.7"/>
<line x1="342.60" y1="317.30" x2="342.60" y2="319.00" stroke="#777" stroke-width="0.7"/>
<line x1="364.70" y1="317.30" x2="364.70" y2="319.00" stroke="#777" stroke-width="0.7"/>
<line x1="387.10" y1="317.30" x2="387.10" y2="319.00" stroke="#777" stroke-width="0.7"/>
<line x1="398.50" y1="317.30" x2="398.50" y2="319.00" stroke="#777" stroke-width="0.7"/>
<line x1="408.80" y1="317.30" x2="408.80" y2="319.00" stroke="#777" stroke-width="0.7"/>
<line x1="418.20" y1="317.30" x2="418.20" y2="319.00" stroke="#777" stroke-width="0.7"/>
<line x1="429.60" y1="317.30" x2="429.60" y2="319.00" stroke="#777" stroke-width="0.7"/>
<line x1="449.40" y1="317.30" x2="449.40" y2="319.00" stroke="#777" stroke-width="0.7"/>
<line x1="468.90" y1="317.30" x2="468.90" y2="319.00" stroke="#777" stroke-width="0.7"/>
<line x1="487.90" y1="317.30" x2="487.90" y2="319.00" stroke="#777" stroke-width="0.7"/>
<line x1="299.80" y1="269.00" x2="299.80" y2="278.30" stroke="#555" stroke-width="1.0"/>
<line x1="297.40" y1="269.00" x2="302.20" y2="269.00" stroke="#555" stroke-width="1.0"/>
<line x1="297.40" y1="278.30" x2="302.20" y2="278.30" stroke="#555" stroke-width="1.0"/>
<line x1="310.30" y1="249.40" x2="310.30" y2="269.00" stroke="#555" stroke-width="1.0"/>
<line x1="307.90" y1="249.40" x2="312.70" y2="249.40" stroke="#555" stroke-width="1.0"/>
<line x1="307.90" y1="269.00" x2="312.70" y2="269.00" stroke="#555" stroke-width="1.0"/>
<line x1="322.30" y1="245.70" x2="322.30" y2="263.70" stroke="#555" stroke-width="1.0"/>
<line x1="319.90" y1="245.70" x2="324.70" y2="245.70" stroke="#555" stroke-width="1.0"/>
<line x1="319.90" y1="263.70" x2="324.70" y2="263.70" stroke="#555" stroke-width="1.0"/>
<line x1="332.30" y1="243.20" x2="332.30" y2="262.20" stroke="#555" stroke-width="1.0"/>
<line x1="329.90" y1="243.20" x2="334.70" y2="243.20" stroke="#555" stroke-width="1.0"/>
<line x1="329.90" y1="262.20" x2="334.70" y2="262.20" stroke="#555" stroke-width="1.0"/>
<line x1="343.50" y1="241.40" x2="343.50" y2="256.00" stroke="#555" stroke-width="1.0"/>
<line x1="341.10" y1="241.40" x2="345.90" y2="241.40" stroke="#555" stroke-width="1.0"/>
<line x1="341.10" y1="256.00" x2="345.90" y2="256.00" stroke="#555" stroke-width="1.0"/>
<line x1="365.60" y1="234.50" x2="365.60" y2="250.80" stroke="#555" stroke-width="1.0"/>
<line x1="363.20" y1="234.50" x2="368.00" y2="234.50" stroke="#555" stroke-width="1.0"/>
<line x1="363.20" y1="250.80" x2="368.00" y2="250.80" stroke="#555" stroke-width="1.0"/>
<line x1="387.80" y1="234.60" x2="387.80" y2="250.80" stroke="#555" stroke-width="1.0"/>
<line x1="385.40" y1="234.60" x2="390.20" y2="234.60" stroke="#555" stroke-width="1.0"/>
<line x1="385.40" y1="250.80" x2="390.20" y2="250.80" stroke="#555" stroke-width="1.0"/>
<line x1="400.30" y1="225.80" x2="400.30" y2="243.10" stroke="#555" stroke-width="1.0"/>
<line x1="397.90" y1="225.80" x2="402.70" y2="225.80" stroke="#555" stroke-width="1.0"/>
<line x1="397.90" y1="243.10" x2="402.70" y2="243.10" stroke="#555" stroke-width="1.0"/>
<line x1="409.50" y1="216.20" x2="409.50" y2="233.10" stroke="#555" stroke-width="1.0"/>
<line x1="407.10" y1="216.20" x2="411.90" y2="216.20" stroke="#555" stroke-width="1.0"/>
<line x1="407.10" y1="233.10" x2="411.90" y2="233.10" stroke="#555" stroke-width="1.0"/>
<line x1="420.00" y1="213.10" x2="420.00" y2="232.30" stroke="#555" stroke-width="1.0"/>
<line x1="417.60" y1="213.10" x2="422.40" y2="213.10" stroke="#555" stroke-width="1.0"/>
<line x1="417.60" y1="232.30" x2="422.40" y2="232.30" stroke="#555" stroke-width="1.0"/>
<line x1="430.00" y1="226.90" x2="430.00" y2="247.70" stroke="#555" stroke-width="1.0"/>
<line x1="427.60" y1="226.90" x2="432.40" y2="226.90" stroke="#555" stroke-width="1.0"/>
<line x1="427.60" y1="247.70" x2="432.40" y2="247.70" stroke="#555" stroke-width="1.0"/>
<line x1="448.50" y1="214.30" x2="448.50" y2="236.00" stroke="#555" stroke-width="1.0"/>
<line x1="446.10" y1="214.30" x2="450.90" y2="214.30" stroke="#555" stroke-width="1.0"/>
<line x1="446.10" y1="236.00" x2="450.90" y2="236.00" stroke="#555" stroke-width="1.0"/>
<line x1="468.50" y1="225.00" x2="468.50" y2="242.00" stroke="#555" stroke-width="1.0"/>
<line x1="466.10" y1="225.00" x2="470.90" y2="225.00" stroke="#555" stroke-width="1.0"/>
<line x1="466.10" y1="242.00" x2="470.90" y2="242.00" stroke="#555" stroke-width="1.0"/>
<line x1="487.70" y1="204.50" x2="487.70" y2="225.10" stroke="#555" stroke-width="1.0"/>
<line x1="485.30" y1="204.50" x2="490.10" y2="204.50" stroke="#555" stroke-width="1.0"/>
<line x1="485.30" y1="225.10" x2="490.10" y2="225.10" stroke="#555" stroke-width="1.0"/>
<line x1="300.60" y1="271.50" x2="300.60" y2="278.30" stroke="#555" stroke-width="1.0"/>
<line x1="298.20" y1="271.50" x2="303.00" y2="271.50" stroke="#555" stroke-width="1.0"/>
<line x1="298.20" y1="278.30" x2="303.00" y2="278.30" stroke="#555" stroke-width="1.0"/>
<line x1="312.50" y1="258.30" x2="312.50" y2="269.00" stroke="#555" stroke-width="1.0"/>
<line x1="310.10" y1="258.30" x2="314.90" y2="258.30" stroke="#555" stroke-width="1.0"/>
<line x1="310.10" y1="269.00" x2="314.90" y2="269.00" stroke="#555" stroke-width="1.0"/>
<line x1="323.30" y1="246.00" x2="323.30" y2="263.70" stroke="#555" stroke-width="1.0"/>
<line x1="320.90" y1="246.00" x2="325.70" y2="246.00" stroke="#555" stroke-width="1.0"/>
<line x1="320.90" y1="263.70" x2="325.70" y2="263.70" stroke="#555" stroke-width="1.0"/>
<line x1="334.00" y1="244.20" x2="334.00" y2="262.20" stroke="#555" stroke-width="1.0"/>
<line x1="331.60" y1="244.20" x2="336.40" y2="244.20" stroke="#555" stroke-width="1.0"/>
<line x1="331.60" y1="262.20" x2="336.40" y2="262.20" stroke="#555" stroke-width="1.0"/>
<line x1="345.60" y1="252.90" x2="345.60" y2="266.80" stroke="#555" stroke-width="1.0"/>
<line x1="343.20" y1="252.90" x2="348.00" y2="252.90" stroke="#555" stroke-width="1.0"/>
<line x1="343.20" y1="266.80" x2="348.00" y2="266.80" stroke="#555" stroke-width="1.0"/>
<line x1="367.90" y1="249.80" x2="367.90" y2="265.20" stroke="#555" stroke-width="1.0"/>
<line x1="365.50" y1="249.80" x2="370.30" y2="249.80" stroke="#555" stroke-width="1.0"/>
<line x1="365.50" y1="265.20" x2="370.30" y2="265.20" stroke="#555" stroke-width="1.0"/>
<line x1="389.40" y1="244.60" x2="389.40" y2="258.00" stroke="#555" stroke-width="1.0"/>
<line x1="387.00" y1="244.60" x2="391.80" y2="244.60" stroke="#555" stroke-width="1.0"/>
<line x1="387.00" y1="258.00" x2="391.80" y2="258.00" stroke="#555" stroke-width="1.0"/>
<line x1="400.80" y1="245.40" x2="400.80" y2="266.00" stroke="#555" stroke-width="1.0"/>
<line x1="398.40" y1="245.40" x2="403.20" y2="245.40" stroke="#555" stroke-width="1.0"/>
<line x1="398.40" y1="266.00" x2="403.20" y2="266.00" stroke="#555" stroke-width="1.0"/>
<line x1="410.20" y1="233.00" x2="410.20" y2="250.00" stroke="#555" stroke-width="1.0"/>
<line x1="407.80" y1="233.00" x2="412.60" y2="233.00" stroke="#555" stroke-width="1.0"/>
<line x1="407.80" y1="250.00" x2="412.60" y2="250.00" stroke="#555" stroke-width="1.0"/>
<line x1="420.20" y1="227.70" x2="420.20" y2="245.80" stroke="#555" stroke-width="1.0"/>
<line x1="417.80" y1="227.70" x2="422.60" y2="227.70" stroke="#555" stroke-width="1.0"/>
<line x1="417.80" y1="245.80" x2="422.60" y2="245.80" stroke="#555" stroke-width="1.0"/>
<line x1="430.00" y1="226.90" x2="430.00" y2="245.10" stroke="#555" stroke-width="1.0"/>
<line x1="427.60" y1="226.90" x2="432.40" y2="226.90" stroke="#555" stroke-width="1.0"/>
<line x1="427.60" y1="245.10" x2="432.40" y2="245.10" stroke="#555" stroke-width="1.0"/>
<line x1="448.50" y1="222.00" x2="448.50" y2="238.90" stroke="#555" stroke-width="1.0"/>
<line x1="446.10" y1="222.00" x2="450.90" y2="222.00" stroke="#555" stroke-width="1.0"/>
<line x1="446.10" y1="238.90" x2="450.90" y2="238.90" stroke="#555" stroke-width="1.0"/>
<line x1="468.50" y1="213.40" x2="468.50" y2="234.00" stroke="#555" stroke-width="1.0"/>
<line x1="466.10" y1="213.40" x2="470.90" y2="213.40" stroke="#555" stroke-width="1.0"/>
<line x1="466.10" y1="234.00" x2="470.90" y2="234.00" stroke="#555" stroke-width="1.0"/>
<line x1="487.70" y1="203.50" x2="487.70" y2="222.00" stroke="#555" stroke-width="1.0"/>
<line x1="485.30" y1="203.50" x2="490.10" y2="203.50" stroke="#555" stroke-width="1.0"/>
<line x1="485.30" y1="222.00" x2="490.10" y2="222.00" stroke="#555" stroke-width="1.0"/>
<path d="M299.8,272.2 L310.3,257.5 L322.3,256.5 L332.3,254.5 L343.5,249.1 L365.6,243.0 L387.8,242.8 L400.3,234.6 L409.5,224.6 L420.0,223.1 L430.0,236.9 L448.5,225.7 L468.5,233.8 L487.7,213.1" stroke="#333" stroke-width="1.2" fill="none" stroke-dasharray="2.6 2.2"/>
<path d="M300.6,274.5 L312.5,262.9 L323.3,252.5 L334.0,250.6 L345.6,259.1 L367.9,256.8 L389.4,251.5 L400.8,256.6 L410.2,241.5 L420.2,236.9 L430.0,236.9 L448.5,230.3 L468.5,224.6 L487.7,213.0" stroke="#333" stroke-width="1.2" fill="none"/>
<path d="M299.80,269.80 L302.20,272.20 L299.80,274.60 L297.40,272.20 Z" fill="#a0a0a0" stroke="#666" stroke-width="0.6"/>
<path d="M310.30,255.10 L312.70,257.50 L310.30,259.90 L307.90,257.50 Z" fill="#a0a0a0" stroke="#666" stroke-width="0.6"/>
<path d="M322.30,254.10 L324.70,256.50 L322.30,258.90 L319.90,256.50 Z" fill="#a0a0a0" stroke="#666" stroke-width="0.6"/>
<path d="M332.30,252.10 L334.70,254.50 L332.30,256.90 L329.90,254.50 Z" fill="#a0a0a0" stroke="#666" stroke-width="0.6"/>
<path d="M343.50,246.70 L345.90,249.10 L343.50,251.50 L341.10,249.10 Z" fill="#a0a0a0" stroke="#666" stroke-width="0.6"/>
<path d="M365.60,240.60 L368.00,243.00 L365.60,245.40 L363.20,243.00 Z" fill="#a0a0a0" stroke="#666" stroke-width="0.6"/>
<path d="M387.80,240.40 L390.20,242.80 L387.80,245.20 L385.40,242.80 Z" fill="#a0a0a0" stroke="#666" stroke-width="0.6"/>
<path d="M400.30,232.20 L402.70,234.60 L400.30,237.00 L397.90,234.60 Z" fill="#a0a0a0" stroke="#666" stroke-width="0.6"/>
<path d="M409.50,222.20 L411.90,224.60 L409.50,227.00 L407.10,224.60 Z" fill="#a0a0a0" stroke="#666" stroke-width="0.6"/>
<path d="M420.00,220.70 L422.40,223.10 L420.00,225.50 L417.60,223.10 Z" fill="#a0a0a0" stroke="#666" stroke-width="0.6"/>
<path d="M430.00,234.50 L432.40,236.90 L430.00,239.30 L427.60,236.90 Z" fill="#a0a0a0" stroke="#666" stroke-width="0.6"/>
<path d="M448.50,223.30 L450.90,225.70 L448.50,228.10 L446.10,225.70 Z" fill="#a0a0a0" stroke="#666" stroke-width="0.6"/>
<path d="M468.50,231.40 L470.90,233.80 L468.50,236.20 L466.10,233.80 Z" fill="#a0a0a0" stroke="#666" stroke-width="0.6"/>
<path d="M487.70,210.70 L490.10,213.10 L487.70,215.50 L485.30,213.10 Z" fill="#a0a0a0" stroke="#666" stroke-width="0.6"/>
<path d="M300.60,272.30 L302.80,274.50 L300.60,276.70 L298.40,274.50 Z" fill="#b8b8b8" stroke="#666" stroke-width="0.6"/>
<path d="M312.50,260.70 L314.70,262.90 L312.50,265.10 L310.30,262.90 Z" fill="#b8b8b8" stroke="#666" stroke-width="0.6"/>
<path d="M323.30,250.30 L325.50,252.50 L323.30,254.70 L321.10,252.50 Z" fill="#b8b8b8" stroke="#666" stroke-width="0.6"/>
<path d="M334.00,248.40 L336.20,250.60 L334.00,252.80 L331.80,250.60 Z" fill="#b8b8b8" stroke="#666" stroke-width="0.6"/>
<path d="M345.60,256.90 L347.80,259.10 L345.60,261.30 L343.40,259.10 Z" fill="#b8b8b8" stroke="#666" stroke-width="0.6"/>
<path d="M367.90,254.60 L370.10,256.80 L367.90,259.00 L365.70,256.80 Z" fill="#b8b8b8" stroke="#666" stroke-width="0.6"/>
<path d="M389.40,249.30 L391.60,251.50 L389.40,253.70 L387.20,251.50 Z" fill="#b8b8b8" stroke="#666" stroke-width="0.6"/>
<path d="M400.80,254.40 L403.00,256.60 L400.80,258.80 L398.60,256.60 Z" fill="#b8b8b8" stroke="#666" stroke-width="0.6"/>
<path d="M410.20,239.30 L412.40,241.50 L410.20,243.70 L408.00,241.50 Z" fill="#b8b8b8" stroke="#666" stroke-width="0.6"/>
<path d="M420.20,234.70 L422.40,236.90 L420.20,239.10 L418.00,236.90 Z" fill="#b8b8b8" stroke="#666" stroke-width="0.6"/>
<path d="M430.00,234.70 L432.20,236.90 L430.00,239.10 L427.80,236.90 Z" fill="#b8b8b8" stroke="#666" stroke-width="0.6"/>
<path d="M448.50,228.10 L450.70,230.30 L448.50,232.50 L446.30,230.30 Z" fill="#b8b8b8" stroke="#666" stroke-width="0.6"/>
<path d="M468.50,222.40 L470.70,224.60 L468.50,226.80 L466.30,224.60 Z" fill="#b8b8b8" stroke="#666" stroke-width="0.6"/>
<path d="M487.70,210.80 L489.90,213.00 L487.70,215.20 L485.50,213.00 Z" fill="#b8b8b8" stroke="#666" stroke-width="0.6"/>
<line x1="311.20" y1="300.50" x2="311.20" y2="310.20" stroke="#555" stroke-width="1.0"/>
<line x1="308.80" y1="300.50" x2="313.60" y2="300.50" stroke="#555" stroke-width="1.0"/>
<line x1="308.80" y1="310.20" x2="313.60" y2="310.20" stroke="#555" stroke-width="1.0"/>
<line x1="333.00" y1="302.90" x2="333.00" y2="309.80" stroke="#555" stroke-width="1.0"/>
<line x1="330.60" y1="302.90" x2="335.40" y2="302.90" stroke="#555" stroke-width="1.0"/>
<line x1="330.60" y1="309.80" x2="335.40" y2="309.80" stroke="#555" stroke-width="1.0"/>
<line x1="344.60" y1="301.40" x2="344.60" y2="310.00" stroke="#555" stroke-width="1.0"/>
<line x1="342.20" y1="301.40" x2="347.00" y2="301.40" stroke="#555" stroke-width="1.0"/>
<line x1="342.20" y1="310.00" x2="347.00" y2="310.00" stroke="#555" stroke-width="1.0"/>
<line x1="388.60" y1="297.40" x2="388.60" y2="309.60" stroke="#555" stroke-width="1.0"/>
<line x1="386.20" y1="297.40" x2="391.00" y2="297.40" stroke="#555" stroke-width="1.0"/>
<line x1="386.20" y1="309.60" x2="391.00" y2="309.60" stroke="#555" stroke-width="1.0"/>
<line x1="419.50" y1="290.80" x2="419.50" y2="312.10" stroke="#555" stroke-width="1.0"/>
<line x1="417.10" y1="290.80" x2="421.90" y2="290.80" stroke="#555" stroke-width="1.0"/>
<line x1="417.10" y1="312.10" x2="421.90" y2="312.10" stroke="#555" stroke-width="1.0"/>
<line x1="429.40" y1="300.70" x2="429.40" y2="310.20" stroke="#555" stroke-width="1.0"/>
<line x1="427.00" y1="300.70" x2="431.80" y2="300.70" stroke="#555" stroke-width="1.0"/>
<line x1="427.00" y1="310.20" x2="431.80" y2="310.20" stroke="#555" stroke-width="1.0"/>
<line x1="448.60" y1="299.90" x2="448.60" y2="309.00" stroke="#555" stroke-width="1.0"/>
<line x1="446.20" y1="299.90" x2="451.00" y2="299.90" stroke="#555" stroke-width="1.0"/>
<line x1="446.20" y1="309.00" x2="451.00" y2="309.00" stroke="#555" stroke-width="1.0"/>
<line x1="467.90" y1="294.70" x2="467.90" y2="309.60" stroke="#555" stroke-width="1.0"/>
<line x1="465.50" y1="294.70" x2="470.30" y2="294.70" stroke="#555" stroke-width="1.0"/>
<line x1="465.50" y1="309.60" x2="470.30" y2="309.60" stroke="#555" stroke-width="1.0"/>
<line x1="487.20" y1="305.70" x2="487.20" y2="310.90" stroke="#555" stroke-width="1.0"/>
<line x1="484.80" y1="305.70" x2="489.60" y2="305.70" stroke="#555" stroke-width="1.0"/>
<line x1="484.80" y1="310.90" x2="489.60" y2="310.90" stroke="#555" stroke-width="1.0"/>
<path d="M300.2,315.0 L311.2,304.8 L322.2,308.3 L333.0,306.7 L344.6,305.7 L366.4,309.6 L388.6,303.4 L400.8,310.9 L410.5,310.2 L419.5,301.9 L429.4,305.3 L448.6,304.7 L467.9,301.5 L487.2,308.6" stroke="#666" stroke-width="1.0" fill="none" stroke-dasharray="1 1.8"/>
<rect x="298.20" y="313.00" width="4.00" height="4.00" fill="#9a9a9a" stroke="#555" stroke-width="0.7"/>
<rect x="309.20" y="302.80" width="4.00" height="4.00" fill="#9a9a9a" stroke="#555" stroke-width="0.7"/>
<rect x="320.20" y="306.30" width="4.00" height="4.00" fill="#9a9a9a" stroke="#555" stroke-width="0.7"/>
<rect x="331.00" y="304.70" width="4.00" height="4.00" fill="#9a9a9a" stroke="#555" stroke-width="0.7"/>
<rect x="342.60" y="303.70" width="4.00" height="4.00" fill="#9a9a9a" stroke="#555" stroke-width="0.7"/>
<rect x="364.40" y="307.60" width="4.00" height="4.00" fill="#9a9a9a" stroke="#555" stroke-width="0.7"/>
<rect x="386.60" y="301.40" width="4.00" height="4.00" fill="#9a9a9a" stroke="#555" stroke-width="0.7"/>
<rect x="398.80" y="308.90" width="4.00" height="4.00" fill="#9a9a9a" stroke="#555" stroke-width="0.7"/>
<rect x="408.50" y="308.20" width="4.00" height="4.00" fill="#9a9a9a" stroke="#555" stroke-width="0.7"/>
<rect x="417.50" y="299.90" width="4.00" height="4.00" fill="#9a9a9a" stroke="#555" stroke-width="0.7"/>
<rect x="427.40" y="303.30" width="4.00" height="4.00" fill="#9a9a9a" stroke="#555" stroke-width="0.7"/>
<rect x="446.60" y="302.70" width="4.00" height="4.00" fill="#9a9a9a" stroke="#555" stroke-width="0.7"/>
<rect x="465.90" y="299.50" width="4.00" height="4.00" fill="#9a9a9a" stroke="#555" stroke-width="0.7"/>
<rect x="485.20" y="306.60" width="4.00" height="4.00" fill="#9a9a9a" stroke="#555" stroke-width="0.7"/>
<line x1="319.50" y1="208.10" x2="327.30" y2="208.10" stroke="#666" stroke-width="1.0" stroke-dasharray="1.5 1"/>
<path d="M323.40,206.20 L325.30,208.10 L323.40,210.00 L321.50,208.10 Z" fill="#a0a0a0" stroke="#666" stroke-width="0.6"/>
<line x1="319.50" y1="218.50" x2="327.30" y2="218.50" stroke="#666" stroke-width="1.0"/>
<path d="M323.40,216.60 L325.30,218.50 L323.40,220.40 L321.50,218.50 Z" fill="#b8b8b8" stroke="#666" stroke-width="0.6"/>
<text x="332.10" y="210.50" font-size="7.0" font-weight="bold" fill="#1c1c1c" text-anchor="start" stroke="#1c1c1c" stroke-width="0.26" textLength="44.00" lengthAdjust="spacingAndGlyphs">Platelet Count</text>
<text x="332.10" y="220.90" font-size="7.0" font-weight="bold" fill="#1c1c1c" text-anchor="start" stroke="#1c1c1c" stroke-width="0.26" textLength="36.40" lengthAdjust="spacingAndGlyphs">Hemoglobin</text>
<line x1="317.50" y1="286.10" x2="327.00" y2="286.10" stroke="#777" stroke-width="1.0" stroke-dasharray="1 1.5"/>
<rect x="320.40" y="284.40" width="3.60" height="3.20" fill="#a8a8a8" stroke="#777" stroke-width="0.6"/>
<text x="331.40" y="288.50" font-size="7.0" font-weight="bold" fill="#1c1c1c" text-anchor="start" stroke="#1c1c1c" stroke-width="0.26" textLength="12.60" lengthAdjust="spacingAndGlyphs">ANC</text>
<text x="280.00" y="258.60" font-size="7.0" font-weight="bold" fill="#1c1c1c" text-anchor="middle" stroke="#1c1c1c" stroke-width="0.26" textLength="91.00" lengthAdjust="spacingAndGlyphs" transform="rotate(-90 280.00 258.60)">Hemoglobin, Mean±SEM, g/L</text>
<text x="511.50" y="258.60" font-size="7.0" font-weight="bold" fill="#1c1c1c" text-anchor="middle" stroke="#1c1c1c" stroke-width="0.26" textLength="108.30" lengthAdjust="spacingAndGlyphs" transform="rotate(90 511.50 258.60)">Cell Number, Mean ± SEM, x 10<tspan font-size="4.5" dy="-2.5">9</tspan><tspan dy="2.5">/L</tspan></text>
<text x="298.50" y="322.60" font-size="6.0" font-weight="bold" fill="#1c1c1c" text-anchor="end" stroke="#1c1c1c" stroke-width="0.26" textLength="33.01" lengthAdjust="spacingAndGlyphs" transform="rotate(-45 298.50 322.60)">0 (25, 34, 15)</text>
<text x="309.90" y="322.60" font-size="6.0" font-weight="bold" fill="#1c1c1c" text-anchor="end" stroke="#1c1c1c" stroke-width="0.26" textLength="33.01" lengthAdjust="spacingAndGlyphs" transform="rotate(-45 309.90 322.60)">1 (23, 32, 15)</text>
<text x="321.40" y="322.60" font-size="6.0" font-weight="bold" fill="#1c1c1c" text-anchor="end" stroke="#1c1c1c" stroke-width="0.26" textLength="33.01" lengthAdjust="spacingAndGlyphs" transform="rotate(-45 321.40 322.60)">2 (21, 30, 14)</text>
<text x="331.80" y="322.60" font-size="6.0" font-weight="bold" fill="#1c1c1c" text-anchor="end" stroke="#1c1c1c" stroke-width="0.26" textLength="33.01" lengthAdjust="spacingAndGlyphs" transform="rotate(-45 331.80 322.60)">3 (21, 30, 14)</text>
<text x="343.20" y="322.60" font-size="6.0" font-weight="bold" fill="#1c1c1c" text-anchor="end" stroke="#1c1c1c" stroke-width="0.26" textLength="33.01" lengthAdjust="spacingAndGlyphs" transform="rotate(-45 343.20 322.60)">4 (22, 31, 15)</text>
<text x="365.30" y="322.60" font-size="6.0" font-weight="bold" fill="#1c1c1c" text-anchor="end" stroke="#1c1c1c" stroke-width="0.26" textLength="33.01" lengthAdjust="spacingAndGlyphs" transform="rotate(-45 365.30 322.60)">6 (21, 30, 15)</text>
<text x="387.70" y="322.60" font-size="6.0" font-weight="bold" fill="#1c1c1c" text-anchor="end" stroke="#1c1c1c" stroke-width="0.26" textLength="33.01" lengthAdjust="spacingAndGlyphs" transform="rotate(-45 387.70 322.60)">8 (21, 29, 14)</text>
<text x="399.10" y="322.60" font-size="6.0" font-weight="bold" fill="#1c1c1c" text-anchor="end" stroke="#1c1c1c" stroke-width="0.26" textLength="36.10" lengthAdjust="spacingAndGlyphs" transform="rotate(-45 399.10 322.60)">12 (18, 26, 13)</text>
<text x="409.40" y="322.60" font-size="6.0" font-weight="bold" fill="#1c1c1c" text-anchor="end" stroke="#1c1c1c" stroke-width="0.26" textLength="36.10" lengthAdjust="spacingAndGlyphs" transform="rotate(-45 409.40 322.60)">16 (16, 23, 12)</text>
<text x="418.80" y="322.60" font-size="6.0" font-weight="bold" fill="#1c1c1c" text-anchor="end" stroke="#1c1c1c" stroke-width="0.26" textLength="36.10" lengthAdjust="spacingAndGlyphs" transform="rotate(-45 418.80 322.60)">20 (16, 23, 12)</text>
<text x="430.20" y="322.60" font-size="6.0" font-weight="bold" fill="#1c1c1c" text-anchor="end" stroke="#1c1c1c" stroke-width="0.26" textLength="35.79" lengthAdjust="spacingAndGlyphs" transform="rotate(-45 430.20 322.60)">24 (14, 21, 11)</text>
<text x="450.00" y="322.60" font-size="6.0" font-weight="bold" fill="#1c1c1c" text-anchor="end" stroke="#1c1c1c" stroke-width="0.26" textLength="35.79" lengthAdjust="spacingAndGlyphs" transform="rotate(-45 450.00 322.60)">32 (14, 21, 11)</text>
<text x="469.50" y="322.60" font-size="6.0" font-weight="bold" fill="#1c1c1c" text-anchor="end" stroke="#1c1c1c" stroke-width="0.26" textLength="33.01" lengthAdjust="spacingAndGlyphs" transform="rotate(-45 469.50 322.60)">40 (12, 17, 8)</text>
<text x="488.50" y="322.60" font-size="6.0" font-weight="bold" fill="#1c1c1c" text-anchor="end" stroke="#1c1c1c" stroke-width="0.26" textLength="33.01" lengthAdjust="spacingAndGlyphs" transform="rotate(-45 488.50 322.60)">48 (10, 15, 6)</text>
<text x="331.30" y="361.50" font-size="7.4" font-weight="bold" fill="#1c1c1c" text-anchor="start" stroke="#1c1c1c" stroke-width="0.26" textLength="126.10" lengthAdjust="spacingAndGlyphs">Time from Start of Idelalisib, Weeks</text>
<text x="329.60" y="370.60" font-size="7.4" font-weight="bold" fill="#1c1c1c" text-anchor="start" stroke="#1c1c1c" stroke-width="0.26" textLength="132.40" lengthAdjust="spacingAndGlyphs">(Hemoglobin, N; Platelets, N; ANC, N)</text>
</svg></body></html>
